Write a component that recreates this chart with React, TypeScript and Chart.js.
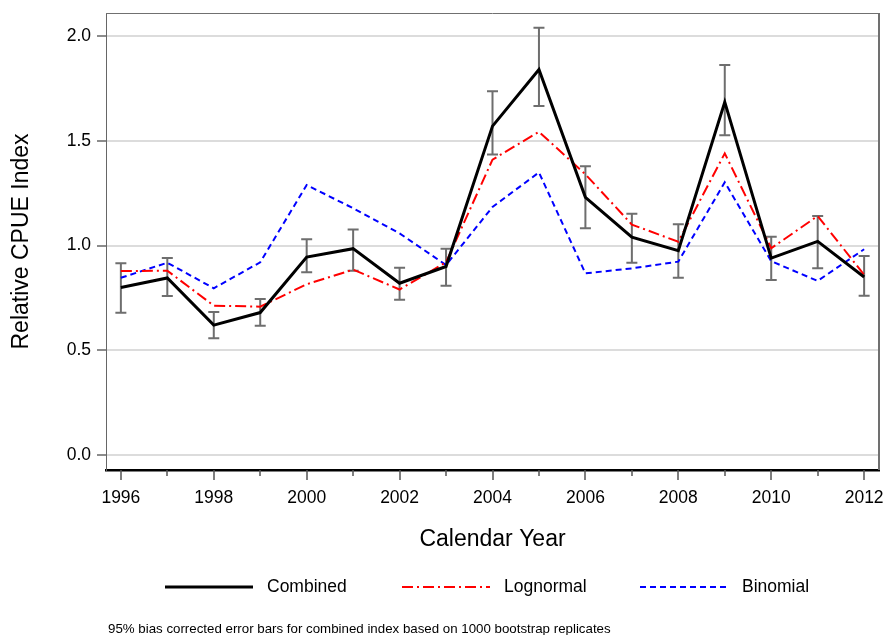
import React, { useEffect, useRef } from "react";
import { Chart, registerables } from "chart.js";

Chart.register(...registerables);

const years = [1996, 1997, 1998, 1999, 2000, 2001, 2002, 2003, 2004, 2005, 2006, 2007, 2008, 2009, 2010, 2011, 2012];
const combined = [0.80, 0.845, 0.62, 0.68, 0.945, 0.985, 0.82, 0.90, 1.57, 1.84, 1.23, 1.04, 0.975, 1.685, 0.94, 1.02, 0.85];
const combinedUpper = [0.915, 0.94, 0.683, 0.745, 1.03, 1.077, 0.894, 0.985, 1.737, 2.04, 1.379, 1.152, 1.101, 1.862, 1.042, 1.141, 0.95];
const combinedLower = [0.679, 0.759, 0.557, 0.617, 0.872, 0.88, 0.741, 0.808, 1.435, 1.666, 1.082, 0.918, 0.846, 1.527, 0.835, 0.891, 0.76];
const lognormal = [0.878, 0.88, 0.713, 0.708, 0.815, 0.885, 0.79, 0.92, 1.41, 1.543, 1.34, 1.10, 1.018, 1.44, 0.987, 1.141, 0.86];
const binomial = [0.846, 0.918, 0.796, 0.92, 1.289, 1.178, 1.058, 0.907, 1.184, 1.349, 0.867, 0.891, 0.923, 1.302, 0.925, 0.831, 0.982];

const xMajorTicks = [1996, 1998, 2000, 2002, 2004, 2006, 2008, 2010, 2012];
const yTicks = [0, 0.5, 1.0, 1.5, 2.0];
const seriesLabels = ["Combined", "Lognormal", "Binomial"];
const xTitle = "Calendar Year";
const yTitle = "Relative CPUE Index";
const footnote = "95% bias corrected error bars for combined index based on 1000 bootstrap replicates";

const FONT = "'Liberation Sans', Arial, sans-serif";

const zeroPad = (s: any) => {
  s.paddingTop = 0;
  s.paddingBottom = 0;
  s.paddingLeft = 0;
  s.paddingRight = 0;
};

export default function App() {
  const ref = useRef<HTMLCanvasElement | null>(null);

  useEffect(() => {
    if (!ref.current) return;

    const extras = {
      id: "extras",
      beforeDatasetsDraw(chart: any) {
        const { ctx } = chart;
        const xs = chart.scales.x;
        const ys = chart.scales.y;
        ctx.save();
        ctx.strokeStyle = "#6e6e6e";
        ctx.lineWidth = 2;
        years.forEach((yr, i) => {
          const px = xs.getPixelForValue(yr);
          const top = ys.getPixelForValue(combinedUpper[i]);
          const bot = ys.getPixelForValue(combinedLower[i]);
          ctx.beginPath();
          ctx.moveTo(px, top);
          ctx.lineTo(px, bot);
          ctx.moveTo(px - 5.5, top);
          ctx.lineTo(px + 5.5, top);
          ctx.moveTo(px - 5.5, bot);
          ctx.lineTo(px + 5.5, bot);
          ctx.stroke();
        });
        ctx.restore();
      },
      afterDraw(chart: any) {
        const { ctx, chartArea } = chart;
        const xs = chart.scales.x;
        ctx.save();
        // frame top & right
        ctx.strokeStyle = "#707070";
        ctx.lineWidth = 1;
        ctx.beginPath();
        ctx.moveTo(chartArea.left, chartArea.top + 0.5);
        ctx.lineTo(chartArea.right, chartArea.top + 0.5);
        ctx.stroke();
        ctx.lineWidth = 2;
        ctx.beginPath();
        ctx.moveTo(chartArea.right, chartArea.top);
        ctx.lineTo(chartArea.right, chartArea.bottom);
        ctx.stroke();
        // x ticks
        ctx.strokeStyle = "#555";
        ctx.lineWidth = 1.5;
        years.forEach((yr) => {
          const px = Math.round(xs.getPixelForValue(yr));
          const len = xMajorTicks.includes(yr) ? 10 : 6;
          ctx.beginPath();
          ctx.moveTo(px, chartArea.bottom);
          ctx.lineTo(px, chartArea.bottom + len);
          ctx.stroke();
        });
        // legend
        const legendX = [165, 402, 640];
        const legendY = 587;
        ctx.font = `17.5px ${FONT}`;
        ctx.textBaseline = "middle";
        ctx.textAlign = "left";
        chart.data.datasets.forEach((ds: any, i: number) => {
          ctx.strokeStyle = ds.borderColor;
          ctx.lineWidth = ds.borderWidth;
          ctx.setLineDash(ds.borderDash || []);
          ctx.beginPath();
          ctx.moveTo(legendX[i], legendY);
          ctx.lineTo(legendX[i] + 88, legendY);
          ctx.stroke();
          ctx.setLineDash([]);
          ctx.fillStyle = "#000";
          ctx.fillText(ds.label, legendX[i] + 102, legendY);
        });
        // footnote
        ctx.font = `13.3px ${FONT}`;
        ctx.fillStyle = "#000";
        ctx.fillText(footnote, 108, 629);
        ctx.restore();
      },
    };

    const chart = new Chart(ref.current, {
      type: "line",
      data: {
        datasets: [
          {
            label: seriesLabels[0],
            data: years.map((x, i) => ({ x, y: combined[i] })),
            borderColor: "#000000",
            borderWidth: 3,
            pointRadius: 0,
            tension: 0,
          },
          {
            label: seriesLabels[1],
            data: years.map((x, i) => ({ x, y: lognormal[i] })),
            borderColor: "#ff0000",
            borderWidth: 2,
            borderDash: [11, 4, 2, 4],
            pointRadius: 0,
            tension: 0,
          },
          {
            label: seriesLabels[2],
            data: years.map((x, i) => ({ x, y: binomial[i] })),
            borderColor: "#0000ff",
            borderWidth: 2,
            borderDash: [6, 4],
            pointRadius: 0,
            tension: 0,
          },
        ],
      },
      options: {
        animation: false,
        responsive: false,
        devicePixelRatio: 1,
        layout: { padding: { top: 13, right: 8, left: 0, bottom: 0 } },
        plugins: {
          legend: { display: false },
          tooltip: { enabled: false },
        },
        scales: {
          x: {
            type: "linear",
            position: "bottom",
            min: 1995.68,
            max: 2012.32,
            afterBuildTicks: (s: any) => {
              s.ticks = xMajorTicks.map((v) => ({ value: v }));
            },
            afterFit: (s: any) => {
              s.height = 165;
              zeroPad(s);
            },
            grid: { display: false },
            border: { display: true, color: "#000", width: 2.5 },
            ticks: {
              color: "#000",
              font: { family: FONT, size: 17.5 },
              padding: 10,
              maxRotation: 0,
              autoSkip: false,
              callback: (v: any) => String(v),
            },
            title: {
              display: true,
              text: xTitle,
              color: "#000",
              font: { family: FONT, size: 23 },
              padding: { top: 0, bottom: 82 },
            },
          },
          y: {
            type: "linear",
            min: -0.0716,
            max: 2.11,
            afterBuildTicks: (s: any) => {
              s.ticks = yTicks.map((v) => ({ value: v }));
            },
            afterFit: (s: any) => {
              s.width = 106;
              zeroPad(s);
            },
            grid: {
              color: "#dcdcdc",
              lineWidth: 2,
              drawTicks: true,
              tickLength: 9,
              tickColor: "#666",
              tickWidth: 1.5,
            },
            border: { display: true, color: "#666", width: 1 },
            ticks: {
              color: "#000",
              font: { family: FONT, size: 17.5 },
              padding: 6,
              callback: (v: any) => Number(v).toFixed(1),
            },
            title: {
              display: true,
              text: yTitle,
              color: "#000",
              font: { family: FONT, size: 23 },
              padding: { top: 8, bottom: 0 },
            },
          },
        },
      },
      plugins: [extras],
    } as any);

    return () => chart.destroy();
  }, []);

  return (
    <div style={{ position: "absolute", left: 0, top: 0, width: 887, height: 635, background: "#fff" }}>
      <canvas ref={ref} width={887} height={635} />
    </div>
  );
}
